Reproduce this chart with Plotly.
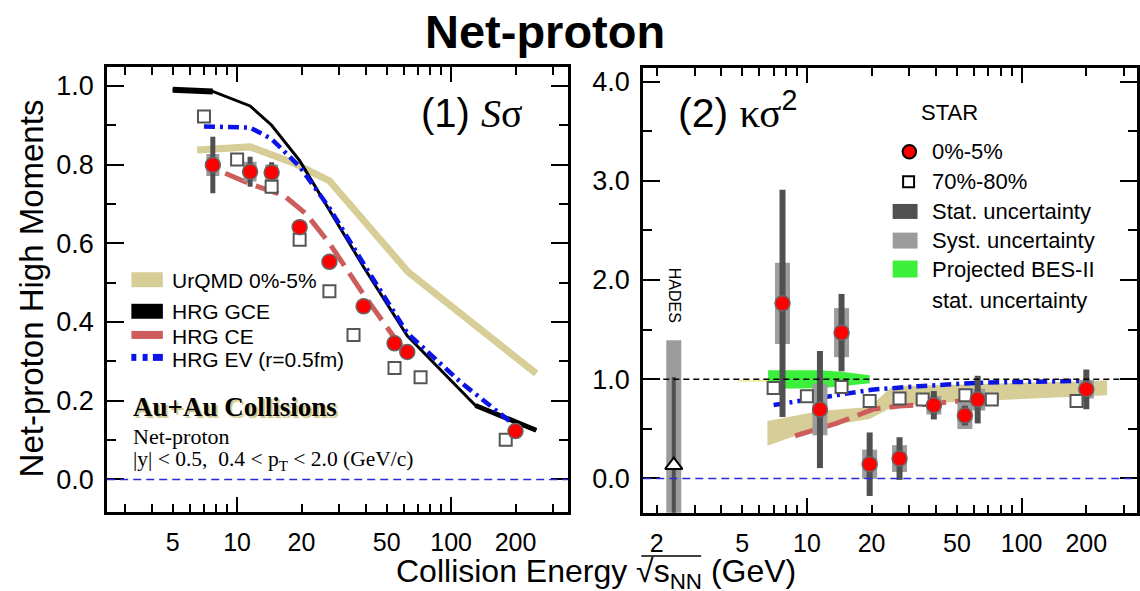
import plotly.graph_objects as go

# ================= DATA =================
# ---- Panel (1): S*sigma ----
ssig_energy = [7.7, 11.5, 14.5, 19.6, 27, 39, 54.4, 62.4, 200]
ssig_central = [0.799, 0.782, 0.780, 0.641, 0.553, 0.440, 0.346, 0.324, 0.123]
ssig_stat = [0.072, 0.038, 0.026, 0.015, 0.012, 0.010, 0.012, 0.012, 0.008]
ssig_syst = [0.028, 0.025, 0.020, 0.015, 0.012, 0.010, 0.010, 0.010, 0.008]
ssig_periph_energy = [7.0, 10.0, 14.5, 19.6, 27, 35, 54.4, 72, 180]
ssig_periph = [0.922, 0.813, 0.744, 0.609, 0.478, 0.367, 0.283, 0.260, 0.101]

urqmd_ssig_x = [6.5, 11.5, 18.2, 27, 63, 250]
urqmd_ssig_y = [0.837, 0.845, 0.805, 0.759, 0.527, 0.269]
gce_ssig_x = [5, 7.7, 11.5, 14.5, 19.6, 27, 39, 62.4, 130, 250]
gce_ssig_y = [0.990, 0.986, 0.949, 0.900, 0.810, 0.685, 0.540, 0.365, 0.188, 0.125]
ce_ssig_x = [8.8, 11.5, 16.5, 21, 27, 39, 54.4, 64]
ce_ssig_y = [0.778, 0.751, 0.722, 0.675, 0.600, 0.470, 0.360, 0.310]
ev_ssig_x = [7.0, 11.5, 14.5, 19.6, 27, 39, 62.4, 112, 190]
ev_ssig_y = [0.897, 0.894, 0.865, 0.795, 0.690, 0.548, 0.372, 0.245, 0.146]

# ---- Panel (2): kappa*sigma^2 ----
ks_energy = [7.7, 11.5, 14.5, 19.6, 27, 39, 54.4, 62.4, 200]
ks_central = [1.765, 0.695, 1.470, 0.144, 0.201, 0.738, 0.634, 0.795, 0.899]
ks_stat = [1.145, 0.590, 0.390, 0.320, 0.215, 0.143, 0.100, 0.240, 0.200]
ks_syst = [0.410, 0.260, 0.247, 0.147, 0.135, 0.093, 0.135, 0.110, 0.093]
ks_periph_energy = [7.0, 10.0, 14.5, 19.6, 27, 34.6, 54.7, 72.6, 180]
ks_periph = [0.913, 0.829, 0.923, 0.782, 0.805, 0.795, 0.839, 0.795, 0.782]

hades_energy = [2.4]
hades_ks = [0.134]
hades_stat_plus = [0.89]
hades_stat_minus = [1.0]
hades_syst_plus = [1.26]
hades_syst_minus = [1.2]

bes2_x = [6.6, 11.5, 14.5, 19.6]
bes2_upper = [1.09, 1.09, 1.075, 1.04]
bes2_lower = [0.905, 0.91, 0.93, 0.96]

urqmd_ks_x = [6.55, 11.5, 19.6, 25, 39, 62.4, 200, 250]
urqmd_ks_upper = [0.58, 0.68, 0.72, 0.93, 0.94, 0.95, 0.98, 0.99]
urqmd_ks_lower = [0.33, 0.52, 0.60, 0.72, 0.76, 0.78, 0.83, 0.84]
urqmd_ks_thin_x = [4.8, 6.8]
urqmd_ks_thin_y = [0.985, 0.985]

ce_ks_x = [8.8, 13.7, 20.5, 27, 35, 50, 62.4]
ce_ks_y = [0.43, 0.555, 0.70, 0.73, 0.745, 0.785, 0.80]
ev_ks_x = [7.0, 10, 14.5, 20, 33, 62.4, 200]
ev_ks_y = [0.74, 0.79, 0.84, 0.895, 0.93, 0.965, 0.985]

# tick labels
x_tickvals_left = [5, 10, 20, 50, 100, 200]
x_ticktext_left = ["5", "10", "20", "50", "100", "200"]
x_tickvals_right = [2, 5, 10, 20, 50, 100, 200]
x_ticktext_right = ["2", "5", "10", "20", "50", "100", "200"]
x_minor_ticks = [2, 3, 4, 6, 7, 8, 9, 30, 40, 60, 70, 80, 90, 300]
x_long_ticks = [10, 100]

# ================= STYLE =================
W, H = 1140, 591
SANS = "Liberation Sans, Arial, sans-serif"
SERIF = "Liberation Serif, Times New Roman, serif"
RED = "#ff0000"
STAT_C = "#505050"
SYST_C = "#9c9c9c"
URQMD_C = "#d6cd97"
CE_C = "#cd5c5c"
EV_C = "#0a14e6"
GREEN_C = "#3bef3b"

L_DOM_X = (107.5, 569.0)
L_DOM_Y = (65.7, 512.3)
R_DOM_X = (645.0, 1140.0)
R_DOM_Y = (66.7, 512.7)


def px(x):
    return x / W


def py(y):
    return 1 - y / H


fig = go.Figure()

# ---------- panel 1 ----------
fig.add_trace(go.Scatter(x=urqmd_ssig_x, y=urqmd_ssig_y, mode="lines",
                         line=dict(color=URQMD_C, width=7), xaxis="x", yaxis="y"))
fig.add_trace(go.Scatter(x=gce_ssig_x, y=gce_ssig_y, mode="lines",
                         line=dict(color="black", width=3), xaxis="x", yaxis="y"))
fig.add_trace(go.Scatter(x=gce_ssig_x[:2], y=gce_ssig_y[:2], mode="lines",
                         line=dict(color="black", width=6), xaxis="x", yaxis="y"))
fig.add_trace(go.Scatter(x=gce_ssig_x[-2:], y=gce_ssig_y[-2:], mode="lines",
                         line=dict(color="black", width=5), xaxis="x", yaxis="y"))
fig.add_trace(go.Scatter(x=ce_ssig_x, y=ce_ssig_y, mode="lines",
                         line=dict(color=CE_C, width=5, dash="24px,9px"), xaxis="x", yaxis="y"))
fig.add_trace(go.Scatter(x=ev_ssig_x, y=ev_ssig_y, mode="lines",
                         line=dict(color=EV_C, width=4.5, dash="11px,5px,3px,5px"), xaxis="x", yaxis="y"))
# syst / stat
fig.add_trace(go.Scatter(x=ssig_energy, y=ssig_central, mode="markers",
                         marker=dict(size=1, color="rgba(0,0,0,0)"),
                         error_y=dict(type="data", array=ssig_syst, thickness=13, width=0, color=SYST_C),
                         xaxis="x", yaxis="y"))
fig.add_trace(go.Scatter(x=ssig_energy, y=ssig_central, mode="markers",
                         marker=dict(size=1, color="rgba(0,0,0,0)"),
                         error_y=dict(type="data", array=ssig_stat, thickness=5, width=0, color=STAT_C),
                         xaxis="x", yaxis="y"))
fig.add_trace(go.Scatter(x=ssig_periph_energy, y=ssig_periph, mode="markers",
                         marker=dict(symbol="square", size=12, color="white",
                                     line=dict(color="#555555", width=2)), xaxis="x", yaxis="y"))
fig.add_trace(go.Scatter(x=ssig_energy, y=ssig_central, mode="markers",
                         marker=dict(symbol="circle", size=15, color=RED,
                                     line=dict(color="#666666", width=1.5)), xaxis="x", yaxis="y"))

# ---------- panel 2 ----------
fig.add_trace(go.Scatter(x=urqmd_ks_x, y=urqmd_ks_lower, mode="lines", line=dict(width=0, color=URQMD_C),
                         xaxis="x2", yaxis="y2"))
fig.add_trace(go.Scatter(x=urqmd_ks_x, y=urqmd_ks_upper, mode="lines", line=dict(width=0, color=URQMD_C),
                         fill="tonexty", fillcolor=URQMD_C, xaxis="x2", yaxis="y2"))
fig.add_trace(go.Scatter(x=urqmd_ks_thin_x, y=urqmd_ks_thin_y, mode="lines",
                         line=dict(width=2, color="#f0ee9a"), xaxis="x2", yaxis="y2"))
fig.add_trace(go.Scatter(x=bes2_x, y=bes2_lower, mode="lines", line=dict(width=0, color=GREEN_C),
                         xaxis="x2", yaxis="y2"))
fig.add_trace(go.Scatter(x=bes2_x, y=bes2_upper, mode="lines", line=dict(width=0, color=GREEN_C),
                         fill="tonexty", fillcolor=GREEN_C, xaxis="x2", yaxis="y2"))
fig.add_trace(go.Scatter(x=ce_ks_x, y=ce_ks_y, mode="lines",
                         line=dict(color=CE_C, width=5, dash="24px,9px"), xaxis="x2", yaxis="y2"))
fig.add_trace(go.Scatter(x=ev_ks_x, y=ev_ks_y, mode="lines",
                         line=dict(color=EV_C, width=4.5, dash="11px,5px,3px,5px"), xaxis="x2", yaxis="y2"))
# HADES
fig.add_trace(go.Scatter(x=hades_energy, y=hades_ks, mode="markers",
                         marker=dict(size=1, color="rgba(0,0,0,0)"),
                         error_y=dict(type="data", symmetric=False, array=hades_syst_plus,
                                      arrayminus=hades_syst_minus, thickness=15, width=0, color=SYST_C),
                         xaxis="x2", yaxis="y2"))
fig.add_trace(go.Scatter(x=hades_energy, y=hades_ks, mode="markers",
                         marker=dict(size=1, color="rgba(0,0,0,0)"),
                         error_y=dict(type="data", symmetric=False, array=hades_stat_plus,
                                      arrayminus=hades_stat_minus, thickness=4, width=0, color=STAT_C),
                         xaxis="x2", yaxis="y2"))
fig.add_trace(go.Scatter(x=hades_energy, y=hades_ks, mode="markers",
                         marker=dict(symbol="triangle-up", size=15, color="white",
                                     line=dict(color="black", width=2)), xaxis="x2", yaxis="y2"))
# STAR
fig.add_trace(go.Scatter(x=ks_energy, y=ks_central, mode="markers",
                         marker=dict(size=1, color="rgba(0,0,0,0)"),
                         error_y=dict(type="data", array=ks_syst, thickness=15, width=0, color=SYST_C),
                         xaxis="x2", yaxis="y2"))
fig.add_trace(go.Scatter(x=ks_energy, y=ks_central, mode="markers",
                         marker=dict(size=1, color="rgba(0,0,0,0)"),
                         error_y=dict(type="data", array=ks_stat, thickness=6, width=0, color=STAT_C),
                         xaxis="x2", yaxis="y2"))
fig.add_trace(go.Scatter(x=ks_periph_energy, y=ks_periph, mode="markers",
                         marker=dict(symbol="square", size=12, color="white",
                                     line=dict(color="#555555", width=2)), xaxis="x2", yaxis="y2"))
fig.add_trace(go.Scatter(x=ks_energy, y=ks_central, mode="markers",
                         marker=dict(symbol="circle", size=15, color=RED,
                                     line=dict(color="#666666", width=1.5)), xaxis="x2", yaxis="y2"))

# invisible carriers so the overlay axes (long decade ticks) get drawn
fig.add_trace(go.Scatter(x=ssig_energy, y=ssig_central, mode="markers", marker=dict(opacity=0),
                         hoverinfo="skip", xaxis="x3", yaxis="y"))
fig.add_trace(go.Scatter(x=ks_energy, y=ks_central, mode="markers", marker=dict(opacity=0),
                         hoverinfo="skip", xaxis="x4", yaxis="y2"))

# ================= AXES =================
minor_x = dict(tickmode="array", tickvals=x_minor_ticks, ticks="inside", ticklen=8, tickwidth=2,
               tickcolor="black", showgrid=False)
common_x = dict(type="log", showgrid=False, zeroline=False, ticks="inside", ticklen=8, tickwidth=2,
                tickcolor="black", showline=True, linewidth=3, linecolor="black", mirror="ticks",
                tickfont=dict(family=SANS, size=25, color="black"), ticklabelstandoff=6,
                minor=minor_x)
common_y = dict(showgrid=False, zeroline=False, ticks="inside", ticklen=17, tickwidth=2,
                tickcolor="black", showline=True, linewidth=3, linecolor="black", mirror="ticks",
                tickformat=".1f", tickfont=dict(family=SANS, size=27, color="black"),
                ticklabelstandoff=5)
long_x = dict(type="log", showgrid=False, zeroline=False, ticks="inside", ticklen=15, tickwidth=2,
              tickcolor="black", showline=False, mirror="ticks", showticklabels=False,
              tickvals=x_long_ticks)

left_range = [0.393, 2.544]
right_range = [0.2383, 2.537]

fig.update_layout(
    width=W, height=H, autosize=False,
    margin=dict(l=0, r=0, t=0, b=0),
    paper_bgcolor="white", plot_bgcolor="white", showlegend=False,
    xaxis=dict(common_x, domain=[px(L_DOM_X[0]), px(L_DOM_X[1])], range=left_range, anchor="y",
               tickvals=x_tickvals_left, ticktext=x_ticktext_left),
    xaxis3=dict(long_x, overlaying="x", anchor="y", range=left_range),
    yaxis=dict(common_y, domain=[py(L_DOM_Y[1]), py(L_DOM_Y[0])], range=[-0.0837, 1.049], anchor="x",
               tick0=0, dtick=0.2,
               minor=dict(dtick=0.1, tick0=0, ticks="inside", ticklen=9, tickwidth=2,
                          tickcolor="black", showgrid=False)),
    xaxis2=dict(common_x, domain=[px(R_DOM_X[0]), px(R_DOM_X[1])], range=right_range, anchor="y2",
                tickvals=x_tickvals_right, ticktext=x_ticktext_right),
    xaxis4=dict(long_x, overlaying="x2", anchor="y2", range=right_range),
    yaxis2=dict(common_y, domain=[py(R_DOM_Y[1]), py(R_DOM_Y[0])], range=[-0.346, 4.141], anchor="x2",
                tick0=0, dtick=1,
                minor=dict(dtick=0.5, tick0=0, ticks="inside", ticklen=9, tickwidth=2,
                           tickcolor="black", showgrid=False)),
)

shapes = []
# reference lines
shapes.append(dict(type="line", xref="x domain", yref="y", x0=0, x1=1, y0=0, y1=0,
                   line=dict(color="#2a2ad8", width=1.5, dash="8px,5px")))
shapes.append(dict(type="line", xref="x2 domain", yref="y2", x0=0, x1=1, y0=0, y1=0,
                   line=dict(color="#2a2ad8", width=1.5, dash="8px,5px")))
shapes.append(dict(type="line", xref="x2 domain", yref="y2", x0=0, x1=1, y0=1, y1=1,
                   line=dict(color="black", width=1.5, dash="6px,4px")))


def rect(x0, y0, x1, y1, color):
    shapes.append(dict(type="rect", xref="paper", yref="paper", x0=px(x0), x1=px(x1),
                       y0=py(y1), y1=py(y0), line=dict(width=0), fillcolor=color))


# left legend swatches
rect(131.7, 271.7, 163.3, 286.7, URQMD_C)
rect(131.7, 303.3, 163.3, 318.3, "black")
rect(131.7, 330.5, 163.3, 338.5, CE_C)
rect(131.7, 353.5, 136.7, 360.5, EV_C)
rect(143.0, 353.5, 148.0, 360.5, EV_C)
rect(153.3, 353.5, 163.3, 360.5, EV_C)
# right legend swatches
shapes.append(dict(type="circle", xref="paper", yref="paper", x0=px(905), x1=px(918.5),
                   y0=py(157.7), y1=py(144.3), fillcolor=RED, line=dict(color="black", width=2)))
shapes.append(dict(type="rect", xref="paper", yref="paper", x0=px(905.5), x1=px(916.5),
                   y0=py(186.5), y1=py(175.5), fillcolor="white", line=dict(color="black", width=2)))
rect(895, 203.3, 920, 218.3, STAT_C)
rect(895, 232, 920, 248, SYST_C)
rect(895, 260, 920, 277, GREEN_C)
# radical bar of the x-axis title
shapes.append(dict(type="line", xref="paper", yref="paper", x0=px(643), x1=px(703),
                   y0=py(556), y1=py(556), line=dict(color="black", width=1.5)))

fig.update_layout(shapes=shapes)

ann = []


def text(x, y, s, size, family=SANS, xanchor="left", angle=0, **kw):
    ann.append(dict(x=px(x), y=py(y), xref="paper", yref="paper", text=s, showarrow=False,
                    xanchor=xanchor, yanchor="middle", textangle=angle,
                    font=dict(family=family, size=size, color="black", **kw)))


text(546.5, 31, "<b>Net-proton</b>", 47, xanchor="center")
text(32, 288, "Net-proton High Moments", 33, xanchor="center", angle=-90)
text(598, 573, "Collision Energy √s<sub>NN</sub> (GeV)", 32, xanchor="center")
text(420, 113, "(1) <span style='font-family:Liberation Serif'><i>S</i>σ</span>", 40)
text(678, 109, "(2) <span style='font-family:Liberation Serif'>κσ</span><sup>2</sup>", 41)
# left legend
text(170, 280, "UrQMD 0%-5%", 21)
text(170, 310.7, "HRG GCE", 21)
text(170, 335.7, "HRG CE", 21)
text(170, 359.5, "HRG EV (r=0.5fm)", 21)
text(131.7, 407, "<b>Au+Au Collisions</b>", 27, family=SERIF, shadow="2px 2px 1px #cfc68a")
text(131.7, 436, "Net-proton", 22, family=SERIF)
text(131.7, 460, "|y| < 0.5,  0.4 < p<sub>T</sub> < 2.0 (GeV/c)", 21.5, family=SERIF)
# right legend
text(951.7, 112, "STAR", 22, xanchor="center")
text(932.7, 151, "0%-5%", 22)
text(932.7, 181, "70%-80%", 22)
text(932.7, 211, "Stat. uncertainty", 22)
text(932.7, 240, "Syst. uncertainty", 22)
text(932.7, 268.5, "Projected BES-II", 22)
text(932.7, 300, "stat. uncertainty", 22)
text(676.5, 295, "HADES", 16, xanchor="center", angle=90)

fig.update_layout(annotations=ann)

fig.write_html("out.html", config={"displayModeBar": False},
               post_script="document.body.style.margin='0';document.body.style.overflow='hidden';")
